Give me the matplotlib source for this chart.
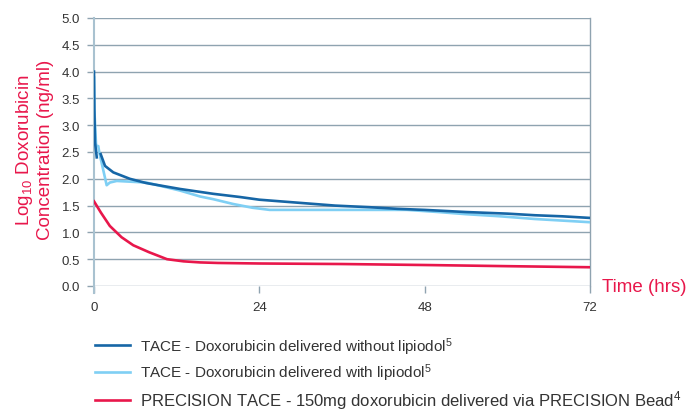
import numpy as np
import matplotlib
matplotlib.use("Agg")
import matplotlib.pyplot as plt

plt.rcParams['font.family'] = ['Liberation Sans', 'DejaVu Sans']
plt.rcParams['mathtext.fontset'] = 'custom'
plt.rcParams['mathtext.rm'] = 'Liberation Sans'
plt.rcParams['mathtext.it'] = 'Liberation Sans'

### Data ###
t_without = [0, 0.05, 0.15, 0.4, np.nan, 0.97, 1.6, 2.8, 5.2, 7.6, 12.5, 17.3, 21.2, 24,
             30, 35, 40, 44, 48, 54, 60, 64, 68, 72]
y_without = [4.0, 3.3, 2.68, 2.40, np.nan, 2.46, 2.24, 2.12, 2.0, 1.92, 1.81, 1.72, 1.66, 1.61,
             1.55, 1.50, 1.47, 1.44, 1.42, 1.38, 1.35, 1.32, 1.30, 1.27]

t_with = [0, 0.05, 0.3, 0.62, 0.77, 1.84, 2.3, 3.3, 7.6, 8.6, 12.5, 15.4, 17.3, 20.2, 23,
          25.5, 30, 35, 40, 45.4, 50, 54, 59, 64, 68, 72]
y_with = [3.89, 3.3, 2.62, 2.61, 2.49, 1.88, 1.93, 1.96, 1.93, 1.90, 1.78, 1.67, 1.62, 1.53, 1.46,
          1.42, 1.42, 1.42, 1.42, 1.42, 1.38, 1.34, 1.30, 1.25, 1.22, 1.19]

t_bead = [0, 1, 2.3, 4, 5.7, 8, 10.6, 13, 15.4, 18, 24, 36, 49, 60, 72]
y_bead = [1.58, 1.37, 1.12, 0.91, 0.76, 0.63, 0.50, 0.46, 0.44, 0.43, 0.42, 0.41, 0.39, 0.37, 0.35]

labels = ['TACE - Doxorubicin delivered without lipiodol$^{5}$',
          'TACE - Doxorubicin delivered with lipiodol$^{5}$',
          'PRECISION TACE - 150mg doxorubicin delivered via PRECISION Bead$^{4}$']

x_ticks = [0, 24, 48, 72]
y_ticks = np.arange(0, 5.01, 0.5)

dark_blue = '#1666a6'
light_blue = '#7fcff4'
red = '#e8174b'
grid_col = '#8fa3b0'
axis_col = '#a9c2d0'
text_col = '#333333'

### Plot ###
fig = plt.figure(figsize=(6.9, 4.1), dpi=100)
ax = fig.add_axes([94 / 690, 1 - 287 / 410, 496 / 690, 268 / 410])

ax.plot(t_without, y_without, color=dark_blue, lw=1.9, label=labels[0], zorder=4)
ax.plot(t_with, y_with, color=light_blue, lw=1.9, label=labels[1], zorder=3)
ax.plot(t_bead, y_bead, color=red, lw=1.9, label=labels[2], zorder=3)

ax.set_xlim(0, 72)
ax.set_ylim(0, 5)
ax.set_xticks(x_ticks)
ax.set_yticks(y_ticks)
ax.set_yticklabels([f'{v:.1f}' for v in y_ticks])

for s in ax.spines.values():
    s.set_visible(False)
ax.spines['right'].set_visible(True)
ax.spines['right'].set_color(grid_col)
ax.spines['right'].set_linewidth(1.0)

ax.yaxis.grid(True, color=grid_col, lw=1.0)
ax.set_axisbelow(True)
ax.tick_params(axis='y', length=5, width=1.0, color=grid_col, pad=5,
               labelsize=9.5, labelcolor=text_col)
ax.tick_params(axis='x', length=5, width=1.0, color=grid_col, pad=6,
               labelsize=9.5, labelcolor=text_col)

# y axis line, a bit longer than the plot area
ax.axvline(0, ymin=-0.025, ymax=1, color=axis_col, lw=1.5, clip_on=False, zorder=2)

fig.text(34 / 690, 1 - 150 / 410, 'Log$_{10}$ Doxorubicin\nConcentration (ng/ml)',
         rotation=90, ha='center', va='center', color=red, fontsize=13.5, linespacing=1.15)
fig.text(602 / 690, 1 - 288 / 410, 'Time (hrs)', ha='left', va='center',
         color=red, fontsize=13.5)

leg = ax.legend(loc='upper left', bbox_to_anchor=(95 / 690, 1 - 336 / 410),
                bbox_transform=fig.transFigure, frameon=False, fontsize=11,
                handlelength=2.3, handletextpad=0.65, labelspacing=0.33,
                borderpad=0, borderaxespad=0)
for txt in leg.get_texts():
    txt.set_color(text_col)
# last row is set a little larger in the original
leg.get_texts()[2].set_fontsize(12)

fig.savefig('out.png', dpi=100)
